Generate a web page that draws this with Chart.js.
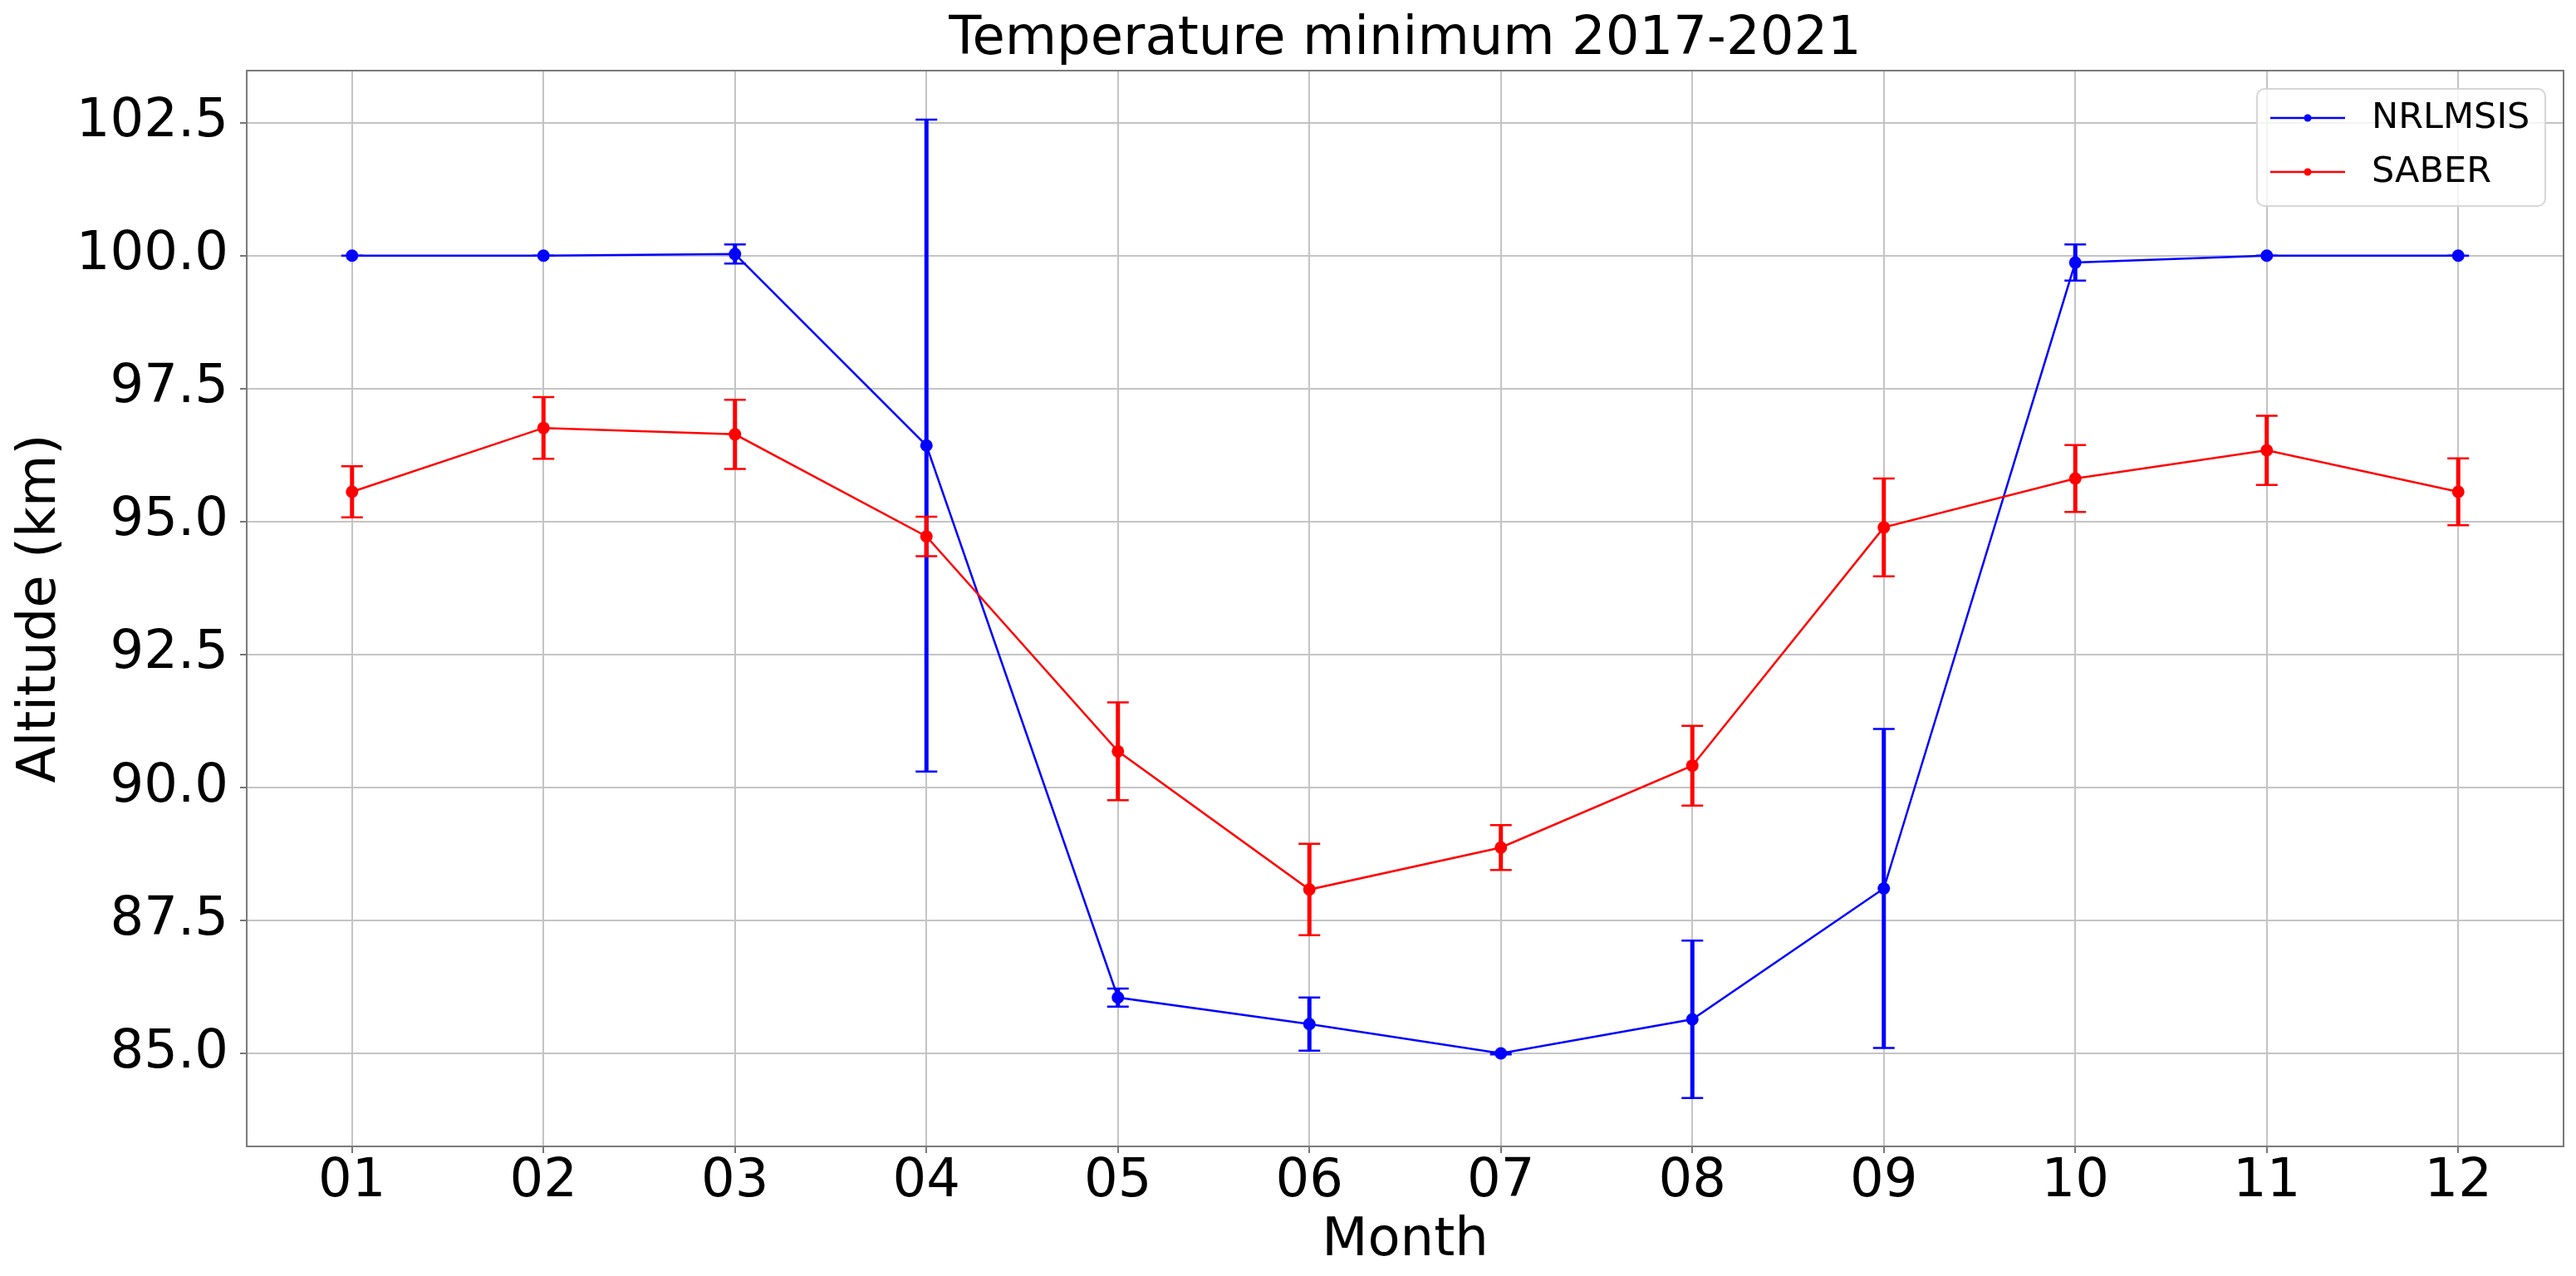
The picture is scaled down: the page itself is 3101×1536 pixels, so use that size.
<!DOCTYPE html>
<html>
<head>
<meta charset="utf-8">
<title>Temperature minimum 2017-2021</title>
<script src="https://cdn.jsdelivr.net/npm/chart.js@4/dist/chart.umd.min.js"></script>
<style>
  html, body { margin: 0; padding: 0; background: #fff; overflow: hidden; }
  canvas { display: block; }
</style>
</head>
<body>
<canvas id="tempMinChart" width="3101" height="1536"></canvas>
<script>
// monthly altitude of the temperature minimum, 2017-2021
const months = ['01', '02', '03', '04', '05', '06', '07', '08', '09', '10', '11', '12'];
const yTicks = [85, 87.5, 90, 92.5, 95, 97.5, 100, 102.5];

const nrlmsis = [100.0, 100.0, 100.03, 96.43, 86.05, 85.55, 85.0, 85.64, 88.10, 99.87, 100.0, 100.0];
const nrlmsisErr = [0, 0, 0.18, 6.13, 0.17, 0.50, 0.02, 1.48, 3.00, 0.34, 0, 0];

const saber = [95.56, 96.76, 96.64, 94.72, 90.68, 88.08, 88.87, 90.41, 94.89, 95.81, 96.34, 95.56];
const saberErr = [0.48, 0.58, 0.65, 0.37, 0.92, 0.86, 0.42, 0.75, 0.92, 0.63, 0.65, 0.63];

Chart.defaults.font.family = "'DejaVu Sans', sans-serif";
Chart.defaults.color = '#000';

const toPoints = (vals) => vals.map((v, i) => ({ x: i + 1, y: v }));

// vertical error bars with caps, drawn just under each series line
const errorBars = {
  id: 'errorBars',
  beforeDatasetDraw(chart, args) {
    const ds = chart.data.datasets[args.index];
    if (!ds.errors) return;
    const { ctx, scales: { x, y } } = chart;
    const cap = 13;
    ctx.save();
    ctx.strokeStyle = ds.borderColor;
    ds.data.forEach((pt, i) => {
      const err = ds.errors[i];
      const px = x.getPixelForValue(pt.x);
      const top = y.getPixelForValue(pt.y + err);
      const bot = y.getPixelForValue(pt.y - err);
      ctx.lineWidth = 5;
      ctx.beginPath();
      ctx.moveTo(px, top);
      ctx.lineTo(px, bot);
      ctx.stroke();
      ctx.lineWidth = 2.5;
      ctx.beginPath();
      ctx.moveTo(px - cap, top);
      ctx.lineTo(px + cap, top);
      ctx.moveTo(px - cap, bot);
      ctx.lineTo(px + cap, bot);
      ctx.stroke();
    });
    ctx.restore();
  }
};

// axes frame (all four spines)
const frame = {
  id: 'frame',
  afterDatasetsDraw(chart) {
    const { ctx, chartArea: a } = chart;
    ctx.save();
    ctx.strokeStyle = '#7a7a7a';
    ctx.lineWidth = 2;
    ctx.strokeRect(a.left, a.top, a.right - a.left, a.bottom - a.top);
    ctx.restore();
  }
};

// legend box in the upper right corner of the plot
const insideLegend = {
  id: 'insideLegend',
  afterDraw(chart) {
    const { ctx, chartArea } = chart;
    const w = 347, h = 141;
    const left = chartArea.right - 22 - w;
    const top = chartArea.top + 22;
    ctx.save();
    ctx.beginPath();
    ctx.roundRect(left, top, w, h, 9);
    ctx.fillStyle = 'rgba(255,255,255,0.8)';
    ctx.fill();
    ctx.strokeStyle = '#d6d6d6';
    ctx.lineWidth = 2;
    ctx.stroke();

    const items = [chart.data.datasets[0], chart.data.datasets[1]];
    items.forEach((ds, i) => {
      const ry = top + 35 + i * 65;
      ctx.strokeStyle = ds.borderColor;
      ctx.lineWidth = 2.5;
      ctx.beginPath();
      ctx.moveTo(left + 16, ry);
      ctx.lineTo(left + 106, ry);
      ctx.stroke();
      ctx.fillStyle = ds.borderColor;
      ctx.beginPath();
      ctx.arc(left + 61, ry, 4.5, 0, Math.PI * 2);
      ctx.fill();
      ctx.fillStyle = '#000';
      ctx.font = "43px 'DejaVu Sans'";
      ctx.textBaseline = 'middle';
      ctx.textAlign = 'left';
      ctx.fillText(ds.label, left + 138, ry + 1);
    });
    ctx.restore();
  }
};

const tickFont = { size: 64, lineHeight: 1 };

new Chart(document.getElementById('tempMinChart'), {
  type: 'line',
  data: {
    datasets: [
      {
        label: 'NRLMSIS',
        data: toPoints(nrlmsis),
        errors: nrlmsisErr,
        borderColor: '#0000ff',
        backgroundColor: '#0000ff',
        borderWidth: 2.5,
        pointRadius: 7.5,
        pointBorderWidth: 0,
        pointBackgroundColor: '#0000ff',
        tension: 0,
        order: 2
      },
      {
        label: 'SABER',
        data: toPoints(saber),
        errors: saberErr,
        borderColor: '#ff0000',
        backgroundColor: '#ff0000',
        borderWidth: 2.5,
        pointRadius: 7.5,
        pointBorderWidth: 0,
        pointBackgroundColor: '#ff0000',
        tension: 0,
        order: 1
      }
    ]
  },
  options: {
    responsive: false,
    devicePixelRatio: 1,
    animation: false,
    layout: { padding: { left: 0, right: 15, top: 0, bottom: 0 } },
    plugins: {
      legend: { display: false },
      tooltip: { enabled: false },
      title: {
        display: true,
        text: 'Temperature minimum 2017-2021',
        fullSize: false,
        color: '#000',
        font: { size: 64, weight: 'normal', lineHeight: 1 },
        padding: { top: 16, bottom: 5 }
      }
    },
    scales: {
      x: {
        type: 'linear',
        min: 0.45,
        max: 12.55,
        afterBuildTicks: (s) => { s.ticks = months.map((m, i) => ({ value: i + 1 })); },
        afterFit: (s) => { s.height = 156; },
        ticks: {
          color: '#000',
          font: tickFont,
          padding: 3,
          maxRotation: 0,
          autoSkip: false,
          callback: (v) => months[v - 1]
        },
        grid: { color: '#c4c4c4', lineWidth: 2, tickLength: 8, tickColor: '#777', tickWidth: 2 },
        border: { display: false },
        title: {
          display: true,
          text: 'Month',
          color: '#000',
          font: { size: 64, lineHeight: 1 },
          padding: { top: 0, bottom: 10 }
        }
      },
      y: {
        type: 'linear',
        min: 83.25,
        max: 103.48,
        afterBuildTicks: (s) => { s.ticks = yTicks.map((v) => ({ value: v })); },
        afterFit: (s) => { s.width = 297; },
        ticks: {
          color: '#000',
          font: tickFont,
          padding: 14,
          callback: (v) => v.toFixed(1)
        },
        grid: { color: '#c4c4c4', lineWidth: 2, tickLength: 8, tickColor: '#777', tickWidth: 2 },
        border: { display: false },
        title: {
          display: true,
          text: 'Altitude (km)',
          color: '#000',
          font: { size: 64, lineHeight: 1 },
          padding: { top: 17, bottom: 0 }
        }
      }
    }
  },
  plugins: [errorBars, frame, insideLegend]
});
</script>
</body>
</html>
